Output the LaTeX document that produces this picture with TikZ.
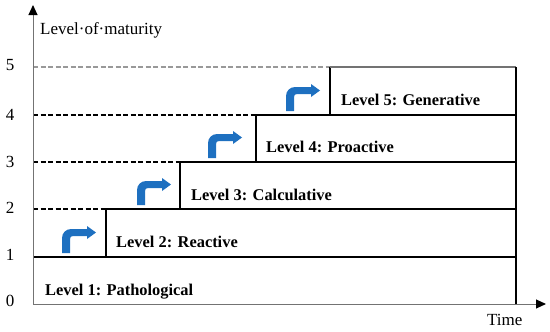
\documentclass[tikz,border=0pt]{standalone}
\usepackage{fontspec}
\setmainfont{Liberation Serif}
\usetikzlibrary{arrows.meta}
\definecolor{arrowblue}{RGB}{30,112,192}
\tikzset{
 lvl/.style={font=\fontsize{16.4}{18}\selectfont\bfseries, anchor=base west, inner sep=0pt},
 num/.style={font=\fontsize{17}{19}\selectfont, anchor=base, inner sep=0pt},
 axlabel/.style={font=\fontsize{17}{19}\selectfont, anchor=base west, inner sep=0pt},
 solidline/.style={line width=1.3pt, black},
 topline/.style={line width=1.3pt, black!55},
 dashline/.style={line width=1.3pt, black, dash pattern=on 5pt off 2.5pt},
 lightdash/.style={line width=1.1pt, black!40, dash pattern=on 5pt off 2.5pt},
 axis/.style={line width=1pt, black!55, -{Triangle[length=10pt,width=9pt,color=black]}},
 bentarrow/.pic={\fill[arrowblue] (0,0) -- (0,-15) .. controls (0,-20) and (4,-24) .. (9,-24) -- (25,-24) -- (25,-27) -- (34,-20.5) -- (25,-14) -- (25,-17) -- (11,-17) .. controls (9,-17) and (8,-16) .. (8,-14) -- (8,0) -- cycle;}
}
\begin{document}
\begin{tikzpicture}[x=1pt,y=-1pt]
\useasboundingbox (0,0) rectangle (550,332);
% coordinates
\coordinate (o) at (33,304);
\coordinate (xend) at (546,304);
\coordinate (yend) at (33,5);
% dashed guide lines
\draw[dashline] (33,209) -- (106,209);
\draw[dashline] (33,162) -- (180,162);
\draw[dashline] (33,115) -- (256,115);
\draw[lightdash] (33,67) -- (330,67);
% steps
\draw[solidline] (33,257) -- (516,257);
\draw[solidline] (106,257) -- (106,209) -- (516,209);
\draw[solidline] (180,209) -- (180,162) -- (516,162);
\draw[solidline] (256,162) -- (256,115) -- (516,115);
\draw[solidline] (330,115) -- (330,67);
\draw[topline] (330,67) -- (516,67);
\draw[solidline] (516,67) -- (516,304);
% axes
\draw[axis] (o) -- (xend);
\draw[axis] (o) -- (yend);
% numbers
\node[num] (n0) at (10,306) {0};
\node[num] (n1) at (10,260.5) {1};
\node[num] (n2) at (10,213) {2};
\node[num] (n3) at (10,167) {3};
\node[num] (n4) at (10,120.5) {4};
\node[num] (n5) at (10,70.5) {5};
% axis labels
\node[axlabel] (ylab) at (40,34.5) {Level·of·maturity};
\node[axlabel] (xlab) at (487,325) {Time};
% level labels
\node[lvl] (l1) at (45,295) {Level 1: Pathological};
\node[lvl] (l2) at (116,247) {Level 2: Reactive};
\node[lvl] (l3) at (191,200) {Level 3: Calculative};
\node[lvl] (l4) at (266,152) {Level 4: Proactive};
\node[lvl] (l5) at (341,105) {Level 5: Generative};
% bent arrows
\pic at (62,253) {bentarrow};
\pic at (137,205) {bentarrow};
\pic at (208,158) {bentarrow};
\pic at (286,111) {bentarrow};
\end{tikzpicture}
\end{document}
